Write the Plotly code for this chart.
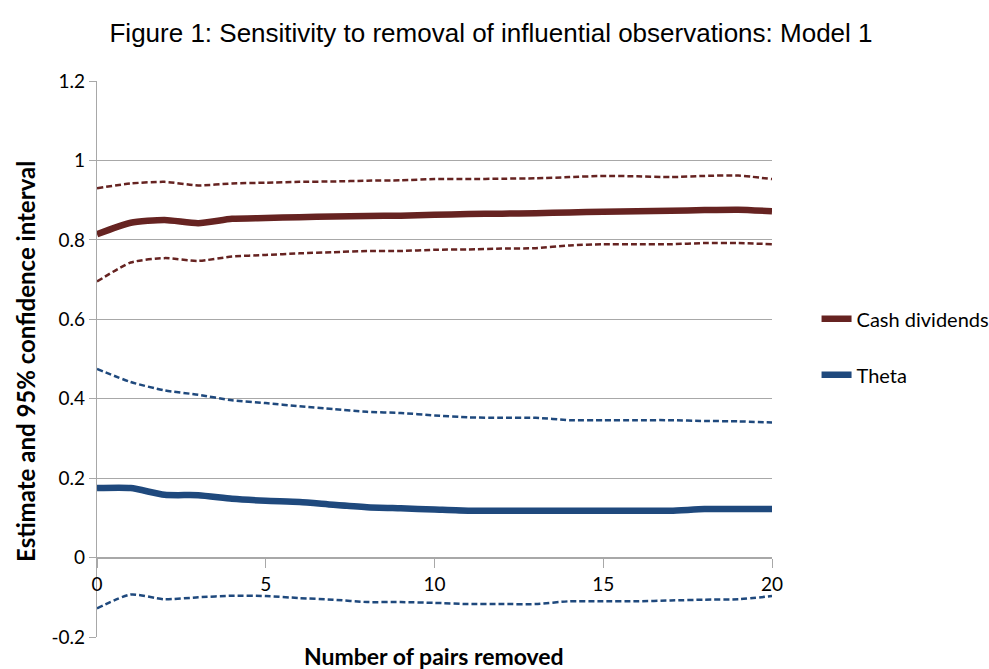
import plotly.graph_objects as go

# Number of influential pairs removed
pairs_removed = list(range(0, 21))

# Cash dividends: estimate and 95% confidence bounds
cash_est = [0.814, 0.843, 0.850, 0.842, 0.853, 0.855, 0.857, 0.859, 0.860, 0.861, 0.863,
            0.865, 0.866, 0.867, 0.869, 0.871, 0.872, 0.873, 0.875, 0.876, 0.872]
cash_hi = [0.930, 0.942, 0.946, 0.937, 0.942, 0.944, 0.946, 0.947, 0.949, 0.950, 0.953,
           0.953, 0.954, 0.955, 0.958, 0.961, 0.960, 0.958, 0.961, 0.962, 0.953]
cash_lo = [0.695, 0.743, 0.754, 0.747, 0.758, 0.762, 0.766, 0.769, 0.772, 0.772, 0.775,
           0.776, 0.778, 0.779, 0.786, 0.789, 0.789, 0.789, 0.792, 0.792, 0.789]

# Theta: estimate and 95% confidence bounds
theta_est = [0.175, 0.175, 0.158, 0.157, 0.148, 0.143, 0.140, 0.133, 0.127, 0.124, 0.121,
             0.118, 0.118, 0.118, 0.118, 0.118, 0.118, 0.118, 0.122, 0.122, 0.122]
theta_hi = [0.475, 0.442, 0.421, 0.410, 0.396, 0.389, 0.381, 0.374, 0.367, 0.364, 0.358,
            0.353, 0.352, 0.352, 0.346, 0.346, 0.346, 0.346, 0.344, 0.343, 0.340]
theta_lo = [-0.128, -0.093, -0.105, -0.100, -0.096, -0.097, -0.102, -0.106, -0.112, -0.112, -0.114,
            -0.117, -0.117, -0.117, -0.110, -0.110, -0.110, -0.108, -0.106, -0.105, -0.097]

# Axis ticks
y_tickvals = [-0.2, 0, 0.2, 0.4, 0.6, 0.8, 1.0, 1.2]
y_ticktext = ["-0.2", "0", "0.2", "0.4", "0.6", "0.8", "1", "1.2"]
x_tickvals = [0, 5, 10, 15, 20]
x_ticktext = ["0", "5", "10", "15", "20"]

RED = "#662321"
BLUE = "#1F497D"
GRID = "#A8A8A8"
LABEL_FONT = "Lato, Calibri, Arial, sans-serif"

fig = go.Figure()

def band(y, color, group):
    fig.add_trace(go.Scatter(
        x=pairs_removed, y=y, mode="lines", showlegend=False, legendgroup=group,
        line=dict(color=color, width=2.5, dash="6px,3px", shape="spline", smoothing=0.6),
        hoverinfo="skip"))

band(cash_hi, RED, "cash")
band(cash_lo, RED, "cash")
band(theta_hi, BLUE, "theta")
band(theta_lo, BLUE, "theta")

fig.add_trace(go.Scatter(
    x=pairs_removed, y=cash_est, mode="lines", name="Cash dividends", legendgroup="cash",
    line=dict(color=RED, width=6.5, shape="spline", smoothing=0.6)))
fig.add_trace(go.Scatter(
    x=pairs_removed, y=theta_est, mode="lines", name="Theta", legendgroup="theta",
    line=dict(color=BLUE, width=6.5, shape="spline", smoothing=0.6)))

fig.update_layout(
    width=989, height=669,
    margin=dict(l=97, r=217, t=81, b=32, autoexpand=False),
    paper_bgcolor="white", plot_bgcolor="white",
    title=dict(text="Figure 1: Sensitivity to removal of influential observations: Model 1",
               x=491 / 989, xanchor="center", y=1 - 33 / 669, yanchor="middle",
               font=dict(family="Liberation Sans, Arial, sans-serif", size=26, color="#000000")),
    showlegend=True,
    legend=dict(x=1.066, xanchor="left", y=0.522, yanchor="middle",
                font=dict(family=LABEL_FONT, size=20, color="#000000"),
                tracegroupgap=27, bgcolor="rgba(0,0,0,0)"),
    xaxis=dict(range=[0, 20], tickvals=x_tickvals, ticktext=x_ticktext,
               anchor="free", position=0.2 / 1.4, showgrid=False, zeroline=False,
               showline=True, linecolor=GRID, linewidth=1.3,
               ticks="outside", ticklen=9, tickcolor=GRID, tickwidth=1.3,
               tickfont=dict(family=LABEL_FONT, size=19, color="#000000")),
    yaxis=dict(range=[-0.2, 1.2], tickvals=y_tickvals, ticktext=y_ticktext,
               showgrid=True, gridcolor=GRID, gridwidth=1.3, zeroline=False,
               showline=True, linecolor=GRID, linewidth=1.3,
               ticks="outside", ticklen=7, tickcolor=GRID, tickwidth=1.3,
               tickfont=dict(family=LABEL_FONT, size=19, color="#000000")),
    annotations=[
        dict(text="<b>Number of pairs removed</b>", xref="paper", yref="paper",
             x=(434 - 97) / 675, y=(637 - 656) / 556, xanchor="center", yanchor="middle",
             showarrow=False, font=dict(family=LABEL_FONT, size=23, color="#000000")),
        dict(text="<b>Estimate and 95% confidence interval</b>", xref="paper", yref="paper",
             x=(25 - 97) / 675, y=(637 - 362) / 556, xanchor="center", yanchor="middle",
             textangle=-90, showarrow=False,
             font=dict(family=LABEL_FONT, size=24, color="#000000")),
    ],
)

fig.write_html("out.html")
